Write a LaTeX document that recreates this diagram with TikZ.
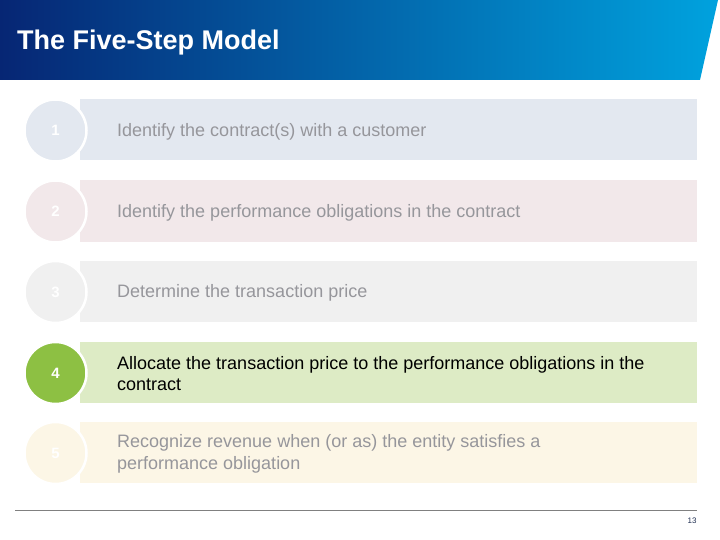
\documentclass[tikz,border=0pt]{standalone}
\usepackage{fontspec}
\setmainfont{Liberation Sans}
\usetikzlibrary{positioning}

\definecolor{headDark}{RGB}{6,38,116}
\definecolor{headMid}{RGB}{0,70,152}
\definecolor{headLight}{RGB}{0,162,222}
\definecolor{barOne}{RGB}{227,232,240}
\definecolor{barTwo}{RGB}{242,232,234}
\definecolor{barThree}{RGB}{240,240,240}
\definecolor{barFour}{RGB}{221,235,197}
\definecolor{dotFour}{RGB}{141,192,67}
\definecolor{barFive}{RGB}{252,246,230}
\definecolor{fadeText}{RGB}{150,150,155}
\definecolor{ruleGray}{RGB}{128,128,128}
\definecolor{pageNum}{RGB}{30,45,80}

\begin{document}
\begin{tikzpicture}[x=1pt,y=-1pt,
    stepbar/.style={rectangle, anchor=west, minimum width=617pt, minimum height=61pt, inner sep=0pt},
    stepdot/.style={circle, minimum size=62pt, inner sep=0pt, draw=white, line width=2.5pt,
      text=white, font=\fontsize{15}{15}\selectfont\bfseries},
    steptext/.style={anchor=west, align=left, inner sep=0pt, font=\fontsize{18}{21.5}\selectfont}]
  \useasboundingbox (0,0) rectangle (720,540);

  % header band
  \shade[left color=headDark, middle color=headMid, right color=headLight]
    (0,0) -- (718,0) -- (700,80) -- (0,80) -- cycle;
  \node[anchor=west, text=white, inner sep=0pt, font=\fontsize{27}{27}\selectfont\bfseries]
    (title) at (17,43) {The Five-Step Model};

  % step 1
  \node[stepbar, fill=barOne] (bar1) at (80,130) {};
  \node[stepdot, fill=barOne] (dot1) at (55.5,130.5) {1};
  \node[steptext, text=fadeText] (txt1) at (117,132) {Identify the contract(s) with a customer};

  % step 2
  \node[stepbar, fill=barTwo] (bar2) at (80,211) {};
  \node[stepdot, fill=barTwo] (dot2) at (55.5,211.5) {2};
  \node[steptext, text=fadeText] (txt2) at (117,213) {Identify the performance obligations in the contract};

  % step 3
  \node[stepbar, fill=barThree] (bar3) at (80,291.5) {};
  \node[stepdot, fill=barThree] (dot3) at (55.5,292) {3};
  \node[steptext, text=fadeText] (txt3) at (117,293) {Determine the transaction price};

  % step 4
  \node[stepbar, fill=barFour] (bar4) at (80,372) {};
  \node[stepdot, fill=dotFour] (dot4) at (55.5,373) {4};
  \node[steptext, text=black] (txt4) at (117,373.5)
    {Allocate the transaction price to the performance obligations in the\\contract};

  % step 5
  \node[stepbar, fill=barFive] (bar5) at (80,452.5) {};
  \node[stepdot, fill=barFive] (dot5) at (55.5,453) {5};
  \node[steptext, text=fadeText] (txt5) at (117,454)
    {Recognize revenue when (or as) the entity satisfies a\\performance obligation};

  % footer
  \draw[ruleGray, line width=1pt] (15,510) -- (697,510);
  \node[text=pageNum, inner sep=0pt, font=\fontsize{8}{8}\selectfont] (page) at (692,521) {13};
\end{tikzpicture}
\end{document}
